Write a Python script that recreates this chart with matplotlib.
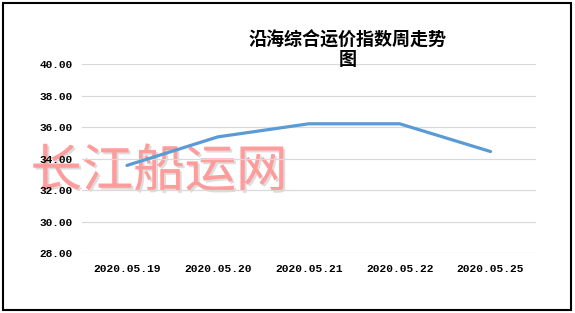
import matplotlib
matplotlib.use("Agg")
import matplotlib.pyplot as plt
from matplotlib.patches import Rectangle
import matplotlib.patheffects as pe

dates = ["2020.05.19", "2020.05.20", "2020.05.21", "2020.05.22", "2020.05.25"]
values = [33.57, 35.38, 36.21, 36.21, 34.45]
yticks = [28, 30, 32, 34, 36, 38, 40]
title_text = "沿海综合运价指数周走势\n图"
watermark = "长江船运网"

W, H = 575, 313
fig = plt.figure(figsize=(W / 100, H / 100), dpi=100)
ax = fig.add_axes([81.5 / W, 1 - 253.3 / H, 454.5 / W, (253.3 - 64) / H])
ax.patch.set_alpha(0)
x = list(range(len(dates)))
ax.plot(x, values, color="#5B9BD5", linewidth=2.3, solid_capstyle="round", zorder=3)
ax.set_xlim(-0.5, len(dates) - 0.5)
ax.set_ylim(28, 40)
ax.set_yticks(yticks)
ax.set_yticklabels([f"{v:.2f}" for v in yticks], family="Liberation Mono", fontsize=8, fontweight="bold")
ax.set_xticks(x)
ax.set_xticklabels(dates, family="Liberation Mono", fontsize=8.1, fontweight="bold")
ax.tick_params(axis="both", length=0)
ax.tick_params(axis="y", pad=6.5)
ax.tick_params(axis="x", pad=8)
ax.grid(axis="y", color="#d9d9d9", linewidth=0.9)
ax.set_axisbelow(True)
for s in ax.spines.values():
    s.set_visible(False)

fig.text(348 / W, 1 - 49.8 / H, title_text, ha="center", va="center", fontsize=13,
         family=["Noto Sans CJK SC", "DejaVu Sans"], fontweight="bold", linespacing=0.97)

fig.text(159 / W, 1 - 172 / H, watermark, ha="center", va="center", fontsize=37,
         family=["Noto Sans CJK SC", "DejaVu Sans"], color="#ff9a9a", alpha=0.85, zorder=-1,
         path_effects=[pe.withSimplePatchShadow(offset=(1.5, -1.5), shadow_rgbFace="#aaaaaa", alpha=0.4), pe.Normal()])

fig.patches.append(Rectangle((3 / W, 1 - 310 / H), 568 / W, 307 / H, transform=fig.transFigure,
                             fill=False, edgecolor="black", linewidth=1.5))
fig.savefig("out.png", dpi=100)
